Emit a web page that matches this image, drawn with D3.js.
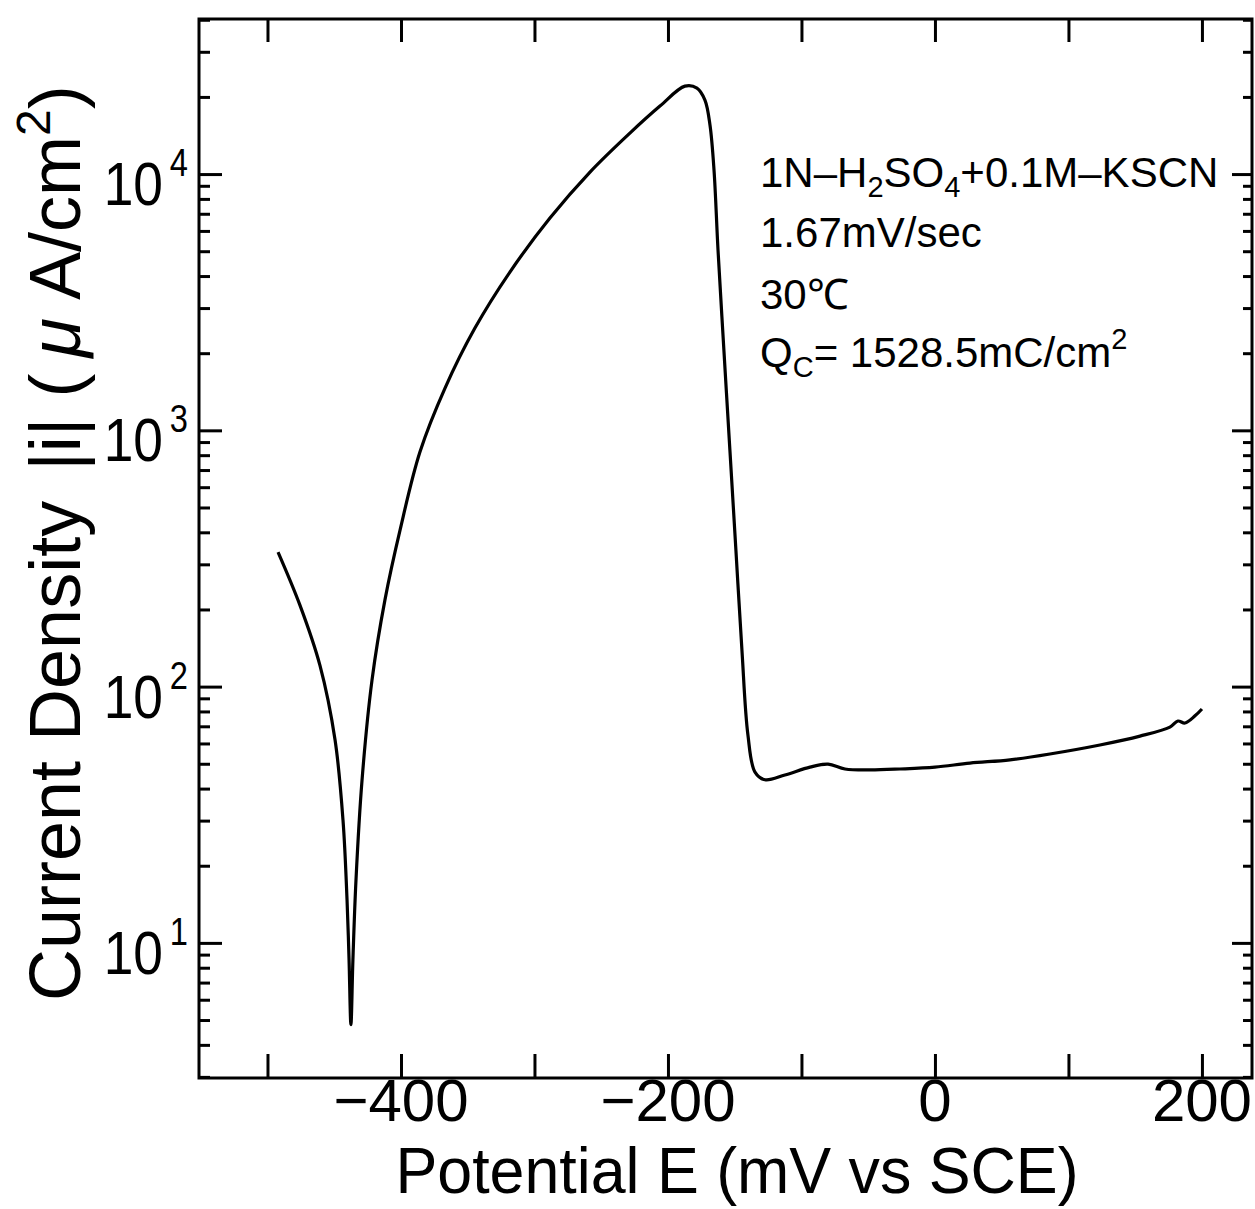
<!DOCTYPE html>
<html>
<head>
<meta charset="utf-8">
<script src="https://cdn.jsdelivr.net/npm/d3@7"></script>
<style>
  html, body { margin: 0; padding: 0; background: #fff; }
  svg { display: block; }
  text { font-family: "Liberation Sans", Arial, Helvetica, sans-serif; fill: #000; }
</style>
</head>
<body>
<svg id="chart" width="1255" height="1209"></svg>
<script>
// ---- Data ----
const potential = [-492.1, -475.7, -460.7, -449.4, -443.4, -440.4, -438.9, -437.5,
  -436.0, -433.7, -429.2, -421.7, -412.0, -400.7, -385.8, -367.0, -344.6, -318.4,
  -288.4, -258.4, -228.5, -206.0, -187.3, -178.3, -172.3, -168.5, -165.5, -162.5, -158.1,
  -153.6, -149.1, -144.6, -140.1, -134.8, -127.3, -112.4, -93.6, -80.1, -67.4,
  -48.7, -26.2, 0, 26.2, 56.2, 86.1, 123.6, 153.6, 176, 182, 187.3, 194.8, 200];
const current = [335, 208, 121, 62, 30, 14.7, 8.6, 4.8,
  8.6, 17.6, 43, 106, 218, 408, 823, 1462, 2506, 4147,
  6735, 10180, 14450, 18420, 22030, 21660, 19450, 15520, 10370, 5045, 2055,
  837, 341, 139, 64.7, 46.4, 43.3, 45.2, 48.5, 49.8, 47.7,
  47.3, 47.7, 48.5, 50.3, 51.8, 54.6, 59.2, 64.1, 69.5, 73.4, 72.1, 76.9, 81.8];

const xTickValues = [-500, -400, -300, -200, -100, 0, 100, 200];
const xTickLabels = [
  { v: -400, t: "\u2212400" },
  { v: -200, t: "\u2212200" },
  { v: 0, t: "0" },
  { v: 200, t: "200" }
];
const yDecades = [1, 2, 3, 4];           // exponents of labelled decades
const xDomain = [-551.3, 237.5];
const yDomain = [2.97, 40280];

// ---- Layout ----
const svg = d3.select("#chart");
const L = 199, R = 1252, T = 19, B = 1078;
const x = d3.scaleLinear().domain(xDomain).range([L, R]);
const y = d3.scaleLog().domain(yDomain).range([B, T]);

// log ticks
const allY = [];
for (let e = 0; e <= 4; e++) {
  for (let m = 1; m <= 9; m++) {
    const v = m * Math.pow(10, e);
    if (v >= yDomain[0] && v <= yDomain[1]) allY.push(v);
  }
}
const majorY = allY.filter(v => Math.abs(Math.log10(v) - Math.round(Math.log10(v))) < 1e-9);
const minorOnly = allY.filter(v => !majorY.includes(v));

const axisStyle = g => {
  g.select(".domain").remove();
  g.selectAll("line").attr("stroke", "#000").attr("stroke-width", 3);
  g.selectAll("text").remove();
};

svg.append("g").attr("transform", `translate(0,${B})`)
  .call(d3.axisBottom(x).tickValues(xTickValues).tickSize(-24).tickFormat(""))
  .call(axisStyle);
svg.append("g").attr("transform", `translate(0,${T})`)
  .call(d3.axisTop(x).tickValues(xTickValues).tickSize(-23).tickFormat(""))
  .call(axisStyle);
svg.append("g").attr("transform", `translate(${L},0)`)
  .call(d3.axisLeft(y).tickValues(majorY).tickSize(-23).tickFormat(""))
  .call(axisStyle);
svg.append("g").attr("transform", `translate(${L},0)`)
  .call(d3.axisLeft(y).tickValues(minorOnly).tickSize(-11).tickFormat(""))
  .call(axisStyle);
svg.append("g").attr("transform", `translate(${R},0)`)
  .call(d3.axisRight(y).tickValues(majorY).tickSize(-20).tickFormat(""))
  .call(axisStyle);
svg.append("g").attr("transform", `translate(${R},0)`)
  .call(d3.axisRight(y).tickValues(minorOnly).tickSize(-9).tickFormat(""))
  .call(axisStyle);

// frame
svg.append("rect")
  .attr("x", L).attr("y", T).attr("width", R - L).attr("height", B - T)
  .attr("fill", "none").attr("stroke", "#000").attr("stroke-width", 3);

// curve
const pts = potential.map((p, i) => [p, current[i]]);
svg.append("path")
  .datum(pts)
  .attr("fill", "none")
  .attr("stroke", "#000")
  .attr("stroke-width", 3.2)
  .attr("stroke-linejoin", "round")
  .attr("d", d3.line().x(d => x(d[0])).y(d => y(d[1])).curve(d3.curveCatmullRom.alpha(0.5)));

// x tick labels
svg.append("g").selectAll("text").data(xTickLabels).join("text")
  .attr("x", d => x(d.v))
  .attr("y", 1121)
  .attr("text-anchor", "middle")
  .attr("font-size", 60)
  .text(d => d.t);

// y tick labels (slightly condensed, like the original typeface)
const yl = svg.append("g").selectAll("text").data(yDecades).join("text")
  .attr("transform", d => `translate(188,${y(Math.pow(10, d)) + 31}) scale(0.86,1)`)
  .attr("text-anchor", "end")
  .attr("font-size", 62);
yl.append("tspan").text("10");
yl.append("tspan").attr("font-size", 38).attr("dx", 8).attr("dy", -29).text(d => d);

// x axis title
svg.append("text")
  .attr("transform", "translate(737,1193) scale(0.98,1)")
  .attr("text-anchor", "middle")
  .attr("font-size", 64)
  .text("Potential E (mV vs SCE)");

// y axis title
const yt = svg.append("text")
  .attr("transform", "translate(80,1001) rotate(-90)")
  .attr("text-anchor", "start")
  .attr("font-size", 72)
  .style("white-space", "pre");
yt.append("tspan").text("Current Density");
yt.append("tspan").attr("dx", 30).text("|i|");
yt.append("tspan").attr("dx", 20).text("(");
yt.append("tspan").attr("dx", 16).attr("font-style", "italic").text("\u03bc");
yt.append("tspan").attr("dx", 18).text("A/cm");
yt.append("tspan").attr("font-size", 48).attr("dy", -30).text("2");
yt.append("tspan").attr("dy", 30).text(")");

// annotations
const ann = svg.append("g").attr("font-size", 42);
const a1 = ann.append("text").attr("x", 760).attr("y", 187);
a1.append("tspan").text("1N\u2013H");
a1.append("tspan").attr("font-size", 29).attr("dy", 10).text("2");
a1.append("tspan").attr("dy", -10).text("SO");
a1.append("tspan").attr("font-size", 29).attr("dy", 10).text("4");
a1.append("tspan").attr("dy", -10).text("+0.1M\u2013KSCN");

ann.append("text").attr("x", 760).attr("y", 247).text("1.67mV/sec");
ann.append("text").attr("x", 760).attr("y", 309).text("30\u2103");

const a4 = ann.append("text").attr("x", 760).attr("y", 367);
a4.append("tspan").text("Q");
a4.append("tspan").attr("font-size", 29).attr("dy", 10).text("C");
a4.append("tspan").attr("dy", -10).text("= 1528.5mC/cm");
a4.append("tspan").attr("font-size", 29).attr("dy", -18).text("2");
</script>
</body>
</html>
